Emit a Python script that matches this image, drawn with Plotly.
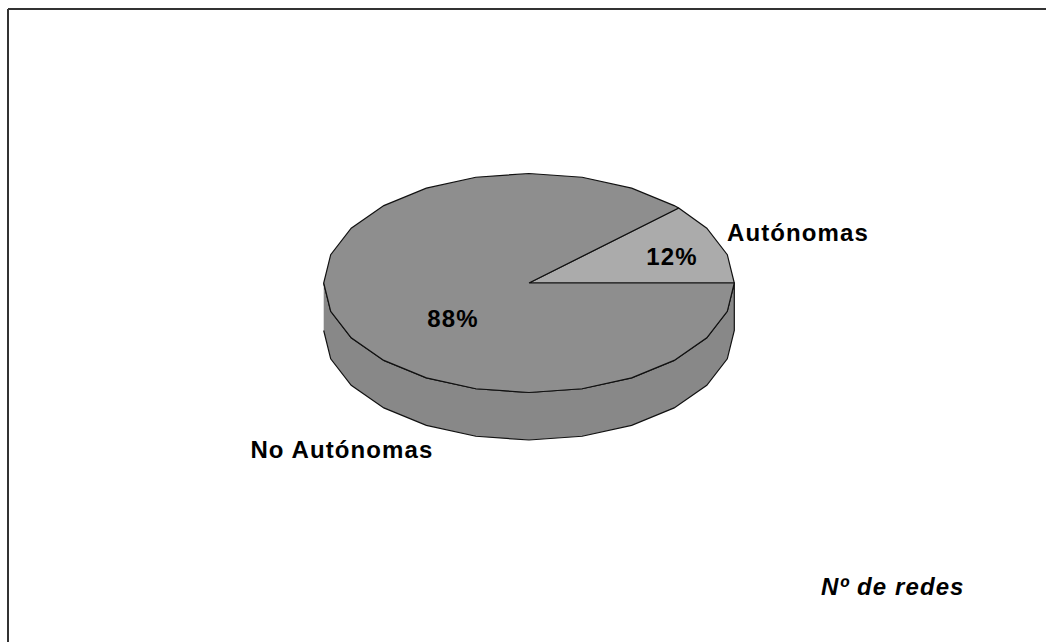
import numpy as np
import plotly.graph_objects as go

categories = ["Autónomas", "No Autónomas"]
values = [12, 88]
percent_labels = ["12%", "88%"]
note = "Nº de redes"

W, H = 1046, 642
CX, CY, RX, RY, DEPTH = 529, 283, 205.3, 109.5, 47.5
STEP = 15
OFFSET = 0


def arc_angles(a, b):
    inner = [OFFSET + STEP * k for k in range(-30, 60)]
    inner = [t for t in inner if a + 0.5 < t < b - 0.5]
    return np.array([a] + inner + [b])


def px(t):
    return CX + RX * np.cos(np.radians(t))


def py(t, dz=0.0):
    return CY - RY * np.sin(np.radians(t)) + dz


total = sum(values)
share = [v / total * 360 for v in values]
fig = go.Figure()

# side wall (front half of the disc)
t = arc_angles(180, 360)
xs = np.concatenate([px(t), px(t[::-1])])
ys = np.concatenate([py(t), py(t[::-1], DEPTH)])
fig.add_trace(go.Scatter(x=xs, y=ys, mode="lines", fill="toself", fillcolor="#888888",
                         line=dict(color="#111111", width=1.2), hoverinfo="skip", showlegend=False))

# top slices
colors = ["#ABABAB", "#8E8E8E"]
start = 0.0
for name, sweep, color in zip(categories, share, colors):
    t = arc_angles(start, start + sweep)
    xs = np.concatenate([[CX], px(t), [CX]])
    ys = np.concatenate([[CY], py(t), [CY]])
    fig.add_trace(go.Scatter(x=xs, y=ys, mode="lines", fill="toself", fillcolor=color, name=name,
                             line=dict(color="#111111", width=1.2), hoverinfo="skip", showlegend=False))
    start += sweep

FONT = dict(family="Liberation Sans, Arial, sans-serif", color="#000000", size=24, weight="bold")
labels = [
    (categories[0], 798, 232, FONT),
    (percent_labels[0], 672, 256, FONT),
    (percent_labels[1], 453, 318, FONT),
    (categories[1], 342, 449, FONT),
    (note, 892, 586, dict(FONT, style="italic")),
]
for text, x, y, f in labels:
    fig.add_annotation(x=x, y=y, text=text, showarrow=False, font=f, xref="x", yref="y",
                       xanchor="center", yanchor="middle")

# frame: only top and left edges are visible in the crop
frame = dict(color="#333333", width=2)
fig.add_shape(type="line", xref="x", yref="y", x0=8, y0=9, x1=W, y1=9, line=frame)
fig.add_shape(type="line", xref="x", yref="y", x0=8, y0=9, x1=8, y1=H, line=frame)

fig.update_xaxes(visible=False, range=[0, W], fixedrange=True)
fig.update_yaxes(visible=False, range=[H, 0], fixedrange=True)
fig.update_layout(width=W, height=H, margin=dict(l=0, r=0, t=0, b=0),
                  paper_bgcolor="#FFFFFF", plot_bgcolor="#FFFFFF", showlegend=False)

fig.write_html("out.html", config={"displayModeBar": False},
               post_script="document.querySelectorAll('.annotation-text').forEach(function(e){e.style.letterSpacing='1.1px';});document.body.style.margin='0';")
